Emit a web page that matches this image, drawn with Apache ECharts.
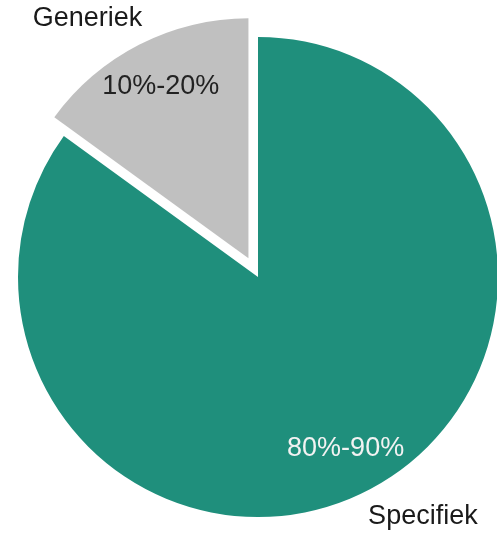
<!DOCTYPE html>
<html>
<head>
<meta charset="utf-8">
<script src="https://cdn.jsdelivr.net/npm/echarts@6/dist/echarts.min.js"></script>
<style>
html,body{margin:0;padding:0;background:#fff;}
#chart{width:497px;height:536px;}
</style>
</head>
<body>
<div id="chart"></div>
<script>
// Data (clockwise from 12 o'clock)
const categories = ['Specifiek', 'Generiek'];
const shares = [85, 15];
const rangeLabels = ['80%-90%', '10%-20%'];
const sliceColors = ['#1f8f7c', '#c0c0c0'];
const insideTextColors = ['#f2f2f2', '#222222'];
const explodedSlice = 'Generiek';

const FONT = '"Liberation Sans", Arial, Helvetica, sans-serif';
const center = [258, 277];
const R = 240;

const baseData = categories.map((c, i) => ({
  name: c,
  value: shares[i],
  selected: c === explodedSlice
}));

const chart = echarts.init(document.getElementById('chart'), null, {renderer: 'canvas'});
chart.setOption({
  animation: false,
  backgroundColor: '#ffffff',
  series: [
    {
      type: 'pie',
      center: center,
      radius: [0, R],
      startAngle: 90,
      clockwise: true,
      selectedMode: 'single',
      selectedOffset: 21,
      avoidLabelOverlap: false,
      silent: true,
      itemStyle: { borderWidth: 0 },
      data: baseData.map((d, i) => Object.assign({}, d, { itemStyle: { color: sliceColors[i] } })),
      label: {
        show: true,
        position: 'outside',
        formatter: '{b}',
        color: '#1a1a1a',
        fontFamily: FONT,
        fontSize: 27,
        distanceToLabelLine: 0
      },
      labelLine: { show: false, length: 29, length2: 0 },
      labelLayout: function (p) {
        return { dx: p.dataIndex === 0 ? -12 : 16 };
      }
    },
    {
      type: 'pie',
      center: center,
      radius: [140, R],
      startAngle: 90,
      clockwise: true,
      selectedMode: 'single',
      selectedOffset: 21,
      avoidLabelOverlap: false,
      silent: true,
      itemStyle: { color: 'rgba(0,0,0,0)', borderWidth: 0 },
      data: baseData.map((d, i) => Object.assign({}, d, {
        label: { color: insideTextColors[i] }
      })),
      label: {
        show: true,
        position: 'inside',
        formatter: function (p) { return rangeLabels[p.dataIndex]; },
        fontFamily: FONT,
        fontSize: 27,
        textBorderWidth: 0
      },
      labelLine: { show: false }
    }
  ]
});
</script>
</body>
</html>
